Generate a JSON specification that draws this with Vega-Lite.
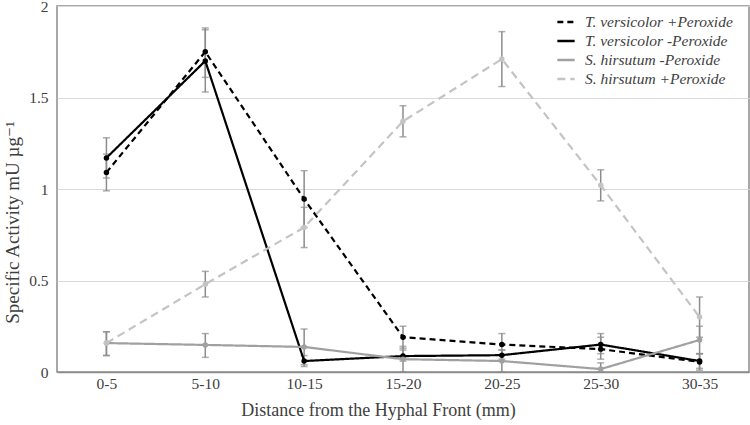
{
  "$schema": "https://vega.github.io/schema/vega-lite/v6.json",
  "width": 692,
  "height": 366,
  "autosize": {"type": "none"},
  "padding": {"left": 57, "top": 6, "right": 1, "bottom": 53},
  "background": "white",
  "config": {
    "font": "Times New Roman, Liberation Serif, DejaVu Serif, serif",
    "view": {"stroke": "#8c8c8c", "strokeWidth": 1.5},
    "axis": {"labelFont": "Times New Roman, Liberation Serif, DejaVu Serif, serif", "titleFont": "Times New Roman, Liberation Serif, DejaVu Serif, serif"},
    "legend": {"labelFont": "Times New Roman, Liberation Serif, DejaVu Serif, serif"}
  },
  "data": {
    "values": [
      {"series": "T. versicolor +Peroxide", "dist": "0-5", "value": 1.09, "lo": 0.99, "hi": 1.19},
      {"series": "T. versicolor +Peroxide", "dist": "5-10", "value": 1.75, "lo": 1.61, "hi": 1.88},
      {"series": "T. versicolor +Peroxide", "dist": "10-15", "value": 0.945, "lo": 0.79, "hi": 1.10},
      {"series": "T. versicolor +Peroxide", "dist": "15-20", "value": 0.19, "lo": 0.13, "hi": 0.25},
      {"series": "T. versicolor +Peroxide", "dist": "20-25", "value": 0.15, "lo": 0.09, "hi": 0.21},
      {"series": "T. versicolor +Peroxide", "dist": "25-30", "value": 0.125, "lo": 0.07, "hi": 0.19},
      {"series": "T. versicolor +Peroxide", "dist": "30-35", "value": 0.055, "lo": 0.01, "hi": 0.10},
      {"series": "T. versicolor -Peroxide", "dist": "0-5", "value": 1.17, "lo": 1.06, "hi": 1.28},
      {"series": "T. versicolor -Peroxide", "dist": "5-10", "value": 1.70, "lo": 1.53, "hi": 1.87},
      {"series": "T. versicolor -Peroxide", "dist": "10-15", "value": 0.06, "lo": 0.03, "hi": 0.09},
      {"series": "T. versicolor -Peroxide", "dist": "15-20", "value": 0.087, "lo": 0.06, "hi": 0.12},
      {"series": "T. versicolor -Peroxide", "dist": "20-25", "value": 0.092, "lo": 0.07, "hi": 0.12},
      {"series": "T. versicolor -Peroxide", "dist": "25-30", "value": 0.15, "lo": 0.10, "hi": 0.21},
      {"series": "T. versicolor -Peroxide", "dist": "30-35", "value": 0.06, "lo": 0.02, "hi": 0.10},
      {"series": "S. hirsutum -Peroxide", "dist": "0-5", "value": 0.158, "lo": 0.09, "hi": 0.22},
      {"series": "S. hirsutum -Peroxide", "dist": "5-10", "value": 0.148, "lo": 0.08, "hi": 0.21},
      {"series": "S. hirsutum -Peroxide", "dist": "10-15", "value": 0.137, "lo": 0.04, "hi": 0.235},
      {"series": "S. hirsutum -Peroxide", "dist": "15-20", "value": 0.07, "lo": 0.0, "hi": 0.14},
      {"series": "S. hirsutum -Peroxide", "dist": "20-25", "value": 0.06, "lo": 0.0, "hi": 0.12},
      {"series": "S. hirsutum -Peroxide", "dist": "25-30", "value": 0.016, "lo": 0.0, "hi": 0.05},
      {"series": "S. hirsutum -Peroxide", "dist": "30-35", "value": 0.175, "lo": 0.10, "hi": 0.25},
      {"series": "S. hirsutum +Peroxide", "dist": "0-5", "value": 0.158, "lo": 0.09, "hi": 0.22},
      {"series": "S. hirsutum +Peroxide", "dist": "5-10", "value": 0.48, "lo": 0.41, "hi": 0.55},
      {"series": "S. hirsutum +Peroxide", "dist": "10-15", "value": 0.79, "lo": 0.68, "hi": 0.90},
      {"series": "S. hirsutum +Peroxide", "dist": "15-20", "value": 1.37, "lo": 1.285, "hi": 1.455},
      {"series": "S. hirsutum +Peroxide", "dist": "20-25", "value": 1.71, "lo": 1.56, "hi": 1.86},
      {"series": "S. hirsutum +Peroxide", "dist": "25-30", "value": 1.02, "lo": 0.935, "hi": 1.105},
      {"series": "S. hirsutum +Peroxide", "dist": "30-35", "value": 0.30, "lo": 0.19, "hi": 0.41}
    ]
  },
  "encoding": {
    "x": {
      "field": "dist", "type": "ordinal",
      "sort": ["0-5", "5-10", "10-15", "15-20", "20-25", "25-30", "30-35"],
      "scale": {"type": "point", "padding": 0.5},
      "axis": {
        "title": "Distance from the Hyphal Front (mm)",
        "labelAngle": 0, "labelFontSize": 15.5, "labelColor": "#404040",
        "titleFontSize": 18, "titleFontWeight": "normal", "titleColor": "#404040",
        "titlePadding": 10, "labelPadding": 4, "titleX": 321,
        "ticks": false, "domainColor": "#8c8c8c", "domainWidth": 1.5, "grid": false
      }
    }
  },
  "layer": [
    {
      "mark": {"type": "rule", "color": "#8c8c8c", "strokeWidth": 1.5},
      "encoding": {
        "y": {"field": "lo", "type": "quantitative"},
        "y2": {"field": "hi"}
      }
    },
    {
      "mark": {"type": "tick", "color": "#8c8c8c", "thickness": 1.5, "size": 7},
      "encoding": {"y": {"field": "lo", "type": "quantitative"}}
    },
    {
      "mark": {"type": "tick", "color": "#8c8c8c", "thickness": 1.5, "size": 7},
      "encoding": {"y": {"field": "hi", "type": "quantitative"}}
    },
    {
      "mark": {"type": "line", "strokeWidth": 2.2},
      "encoding": {
        "y": {
          "field": "value", "type": "quantitative",
          "scale": {"domain": [0, 2], "nice": false},
          "axis": {
            "title": "Specific Activity mU µg⁻¹",
            "values": [0, 0.5, 1, 1.5, 2], "format": "~g",
            "labelFontSize": 15.5, "labelColor": "#404040", "labelPadding": 9,
            "titleFontSize": 19, "titleFontWeight": "normal", "titleColor": "#404040",
            "titlePadding": 6, "titleY": 216,
            "ticks": false, "domain": false,
            "gridColor": "#d9d9d9", "gridWidth": 1.2
          }
        },
        "color": {
          "field": "series", "type": "nominal",
          "scale": {
            "domain": ["T. versicolor +Peroxide", "T. versicolor -Peroxide", "S. hirsutum -Peroxide", "S. hirsutum +Peroxide"],
            "range": ["#000000", "#000000", "#a0a0a0", "#c4c4c4"]
          },
          "legend": {
            "title": null, "orient": "none", "legendX": 499, "legendY": 6,
            "symbolType": "stroke", "symbolSize": 300, "symbolStrokeWidth": 2.5,
            "labelFontStyle": "italic", "labelFontSize": 15.5, "labelLimit": 300,
            "labelColor": "#404040", "rowPadding": 0, "labelOffset": 9
          }
        },
        "strokeDash": {
          "field": "series", "type": "nominal",
          "scale": {
            "domain": ["T. versicolor +Peroxide", "T. versicolor -Peroxide", "S. hirsutum -Peroxide", "S. hirsutum +Peroxide"],
            "range": [[6, 4], [1, 0], [1, 0], [8, 5]]
          },
          "legend": null
        }
      }
    },
    {
      "mark": {"type": "point", "filled": true, "size": 30, "opacity": 1},
      "encoding": {
        "y": {"field": "value", "type": "quantitative"},
        "color": {"field": "series", "type": "nominal", "legend": null}
      }
    }
  ]
}
